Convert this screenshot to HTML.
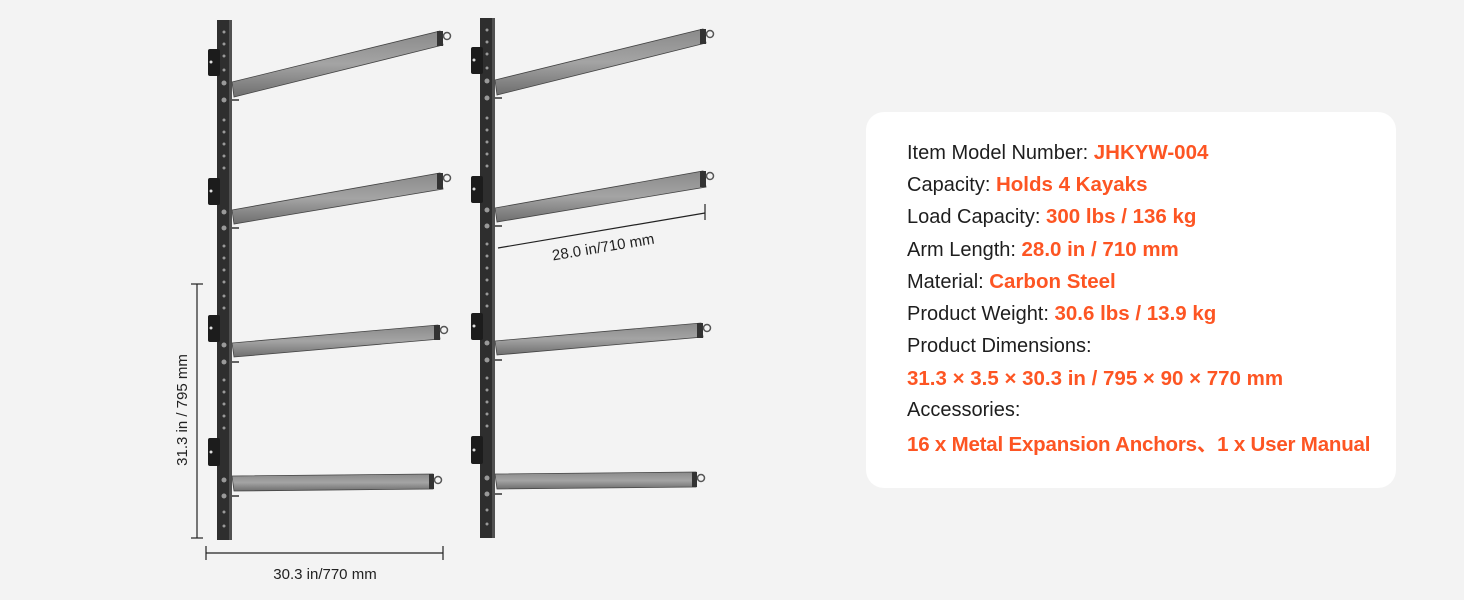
<!DOCTYPE html>
<html><head><meta charset="utf-8"><style>
html,body{margin:0;padding:0;background:#f3f3f3;}
body{width:1464px;height:600px;position:relative;overflow:hidden;font-family:"Liberation Sans",Arial,sans-serif;}
.card{position:absolute;left:866px;top:112px;width:530px;height:376px;background:#fff;border-radius:18px;}
.t{position:absolute;left:907px;font-size:20px;color:#1e1e1e;white-space:nowrap;}
.t b{color:#fd5523;font-size:20.5px;}
</style></head><body>
<svg width="1464" height="600" style="position:absolute;left:0;top:0">
<defs>
<linearGradient id="arm" x1="0" y1="0" x2="0" y2="1"><stop offset="0" stop-color="#8a8a8a"/><stop offset="0.5" stop-color="#a4a4a4"/><stop offset="1" stop-color="#6e6e6e"/></linearGradient>
<g id="rack">
<rect x="217" y="20" width="15" height="520" fill="#2e2e2e"/>
<rect x="229" y="20" width="3" height="520" fill="#505050"/>
<g fill="#999">
<circle cx="224" cy="32" r="1.5"/><circle cx="224" cy="44" r="1.5"/><circle cx="224" cy="56" r="1.5"/><circle cx="224" cy="70" r="1.5"/><circle cx="224" cy="83" r="2.5"/><circle cx="224" cy="100" r="2.5"/><circle cx="224" cy="120" r="1.5"/><circle cx="224" cy="132" r="1.5"/><circle cx="224" cy="144" r="1.5"/><circle cx="224" cy="156" r="1.5"/><circle cx="224" cy="168" r="1.5"/><circle cx="224" cy="212" r="2.5"/><circle cx="224" cy="228" r="2.5"/><circle cx="224" cy="246" r="1.5"/><circle cx="224" cy="258" r="1.5"/><circle cx="224" cy="270" r="1.5"/><circle cx="224" cy="282" r="1.5"/><circle cx="224" cy="296" r="1.5"/><circle cx="224" cy="308" r="1.5"/><circle cx="224" cy="345" r="2.5"/><circle cx="224" cy="362" r="2.5"/><circle cx="224" cy="380" r="1.5"/><circle cx="224" cy="392" r="1.5"/><circle cx="224" cy="404" r="1.5"/><circle cx="224" cy="416" r="1.5"/><circle cx="224" cy="428" r="1.5"/><circle cx="224" cy="480" r="2.5"/><circle cx="224" cy="496" r="2.5"/><circle cx="224" cy="512" r="1.5"/><circle cx="224" cy="526" r="1.5"/>
</g>
<g fill="#1c1c1c">
<rect x="208" y="49" width="12" height="27" rx="2"/><rect x="208" y="178" width="12" height="27" rx="2"/><rect x="208" y="315" width="12" height="27" rx="2"/><rect x="208" y="438" width="12" height="28" rx="2"/>
</g>
<g fill="#ddd"><circle cx="211" cy="62" r="1.5"/><circle cx="211" cy="191" r="1.5"/><circle cx="211" cy="328" r="1.5"/><circle cx="211" cy="452" r="1.5"/></g>
<polygon points="232,82 440,31 443,45 234,97" fill="url(#arm)" stroke="#444" stroke-width="0.8"/>
<polygon points="232,210 440,173 443,189 234,224" fill="url(#arm)" stroke="#444" stroke-width="0.8"/>
<polygon points="232,343 438,325 440,339 234,357" fill="url(#arm)" stroke="#444" stroke-width="0.8"/>
<polygon points="232,476 433,474 433,489 234,491" fill="url(#arm)" stroke="#444" stroke-width="0.8"/>
<g fill="#333"><rect x="437" y="31" width="6" height="15"/><rect x="437" y="173" width="6" height="16"/><rect x="434" y="325" width="6" height="15"/><rect x="429" y="474" width="5" height="15"/></g>
<g fill="none" stroke="#555" stroke-width="1.5"><circle cx="447" cy="36" r="3.5"/><circle cx="447" cy="178" r="3.5"/><circle cx="444" cy="330" r="3.5"/><circle cx="438" cy="480" r="3.5"/></g>
<g stroke="#333" stroke-width="1.5"><line x1="232" y1="100" x2="239" y2="100"/><line x1="232" y1="228" x2="239" y2="228"/><line x1="232" y1="362" x2="239" y2="362"/><line x1="232" y1="496" x2="239" y2="496"/></g>
</g>
</defs>
<use href="#rack"/>
<use href="#rack" transform="translate(263,-2)"/>
<g stroke="#222" stroke-width="1.2">
<line x1="197" y1="284" x2="197" y2="538"/><line x1="191" y1="284" x2="203" y2="284"/><line x1="191" y1="538" x2="203" y2="538"/>
<line x1="206" y1="553" x2="443" y2="553"/><line x1="206" y1="546" x2="206" y2="560"/><line x1="443" y1="546" x2="443" y2="560"/>
<line x1="498" y1="248" x2="705" y2="213"/><line x1="705" y1="204" x2="705" y2="220"/>
</g>
<g font-family="Liberation Sans,Arial,sans-serif" font-size="15" fill="#222">
<text x="325" y="579" text-anchor="middle">30.3 in/770 mm</text>
<text x="0" y="0" text-anchor="middle" transform="translate(187,410) rotate(-90)">31.3 in / 795 mm</text>
<text x="0" y="0" text-anchor="middle" transform="translate(604,252) rotate(-9.5)">28.0 in/710 mm</text>
</g>
</svg>
<div class="card"></div>
<div class="t" style="top:141px">Item Model Number: <b>JHKYW-004</b></div>
<div class="t" style="top:173px">Capacity: <b>Holds 4 Kayaks</b></div>
<div class="t" style="top:205px">Load Capacity: <b>300 lbs / 136 kg</b></div>
<div class="t" style="top:238px">Arm Length: <b>28.0 in / 710 mm</b></div>
<div class="t" style="top:270px">Material: <b>Carbon Steel</b></div>
<div class="t" style="top:302px">Product Weight: <b>30.6 lbs / 13.9 kg</b></div>
<div class="t" style="top:335px">Product Dimensions:</div>
<div class="t" style="top:367px"><b>31.3 × 3.5 × 30.3 in / 795 × 90 × 770 mm</b></div>
<div class="t" style="top:399px">Accessories:</div>
<div class="t" style="top:427px;letter-spacing:-0.2px;font-family:'Liberation Sans','Noto Sans CJK SC',sans-serif"><b>16 x Metal Expansion Anchors、1 x User Manual</b></div>
</body></html>
